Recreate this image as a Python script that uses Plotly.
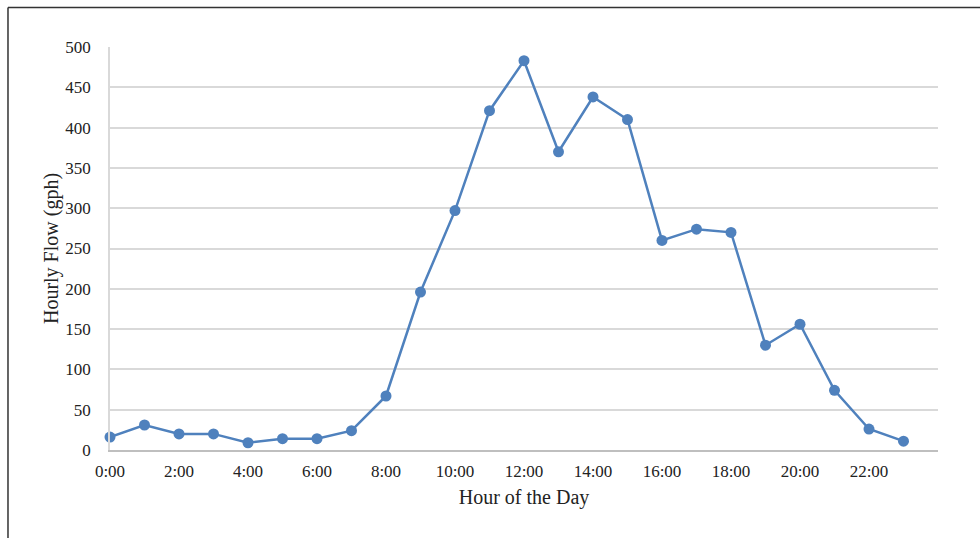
import plotly.graph_objects as go

# Hour of day (0..23) and hourly flow in gallons per hour
hours = list(range(24))
flow_gph = [16, 31, 20, 20, 9, 14, 14, 24, 67, 196, 297, 421, 483, 370, 438, 410,
            260, 274, 270, 130, 156, 74, 26, 11]

tick_vals = list(range(0, 24, 2))
tick_text = [f"{h}:00" for h in tick_vals]
y_ticks = list(range(0, 501, 50))

line_color = "#4F81BD"
font_family = "Liberation Serif, Times New Roman, serif"
text_color = "#222222"

fig = go.Figure()
fig.add_trace(go.Scatter(
    x=hours, y=flow_gph,
    mode="lines+markers",
    line=dict(color=line_color, width=2.5),
    marker=dict(color=line_color, size=11),
    cliponaxis=False,
    showlegend=False,
    hoverinfo="skip",
))

fig.update_layout(
    width=980, height=538,
    margin=dict(l=110, r=42, t=47, b=88),
    paper_bgcolor="white",
    plot_bgcolor="white",
    font=dict(family=font_family, color=text_color),
    xaxis=dict(
        range=[0, 24],
        tickmode="array", tickvals=tick_vals, ticktext=tick_text,
        tickfont=dict(size=17, family=font_family, color=text_color),
        showgrid=False, zeroline=False,
        showline=True, linecolor="#BFBFBF", linewidth=1.5,
        ticks="outside", ticklen=5, tickcolor="rgba(0,0,0,0)",
        title=dict(text="Hour of the Day", font=dict(size=20, family=font_family, color=text_color), standoff=10),
    ),
    yaxis=dict(
        range=[0, 500],
        tickmode="array", tickvals=y_ticks,
        tickfont=dict(size=17, family=font_family, color=text_color),
        showgrid=True, gridcolor="#D9D9D9", gridwidth=1.5,
        zeroline=False,
        showline=True, linecolor="#D9D9D9", linewidth=1.5,
        ticks="outside", ticklen=14, tickcolor="rgba(0,0,0,0)",
        title=dict(text="Hourly Flow (gph)", font=dict(size=20, family=font_family, color=text_color), standoff=1),
    ),
)

# Outer frame (top and left edges visible)
fig.add_shape(type="line", xref="paper", yref="paper",
              x0=-0.1232, x1=1.2, y0=1.098, y1=1.098,
              line=dict(color="#333333", width=1.5))
fig.add_shape(type="line", xref="paper", yref="paper",
              x0=-0.1232, x1=-0.1232, y0=1.098, y1=-0.3,
              line=dict(color="#333333", width=1.5))

fig.write_html("out.html")
